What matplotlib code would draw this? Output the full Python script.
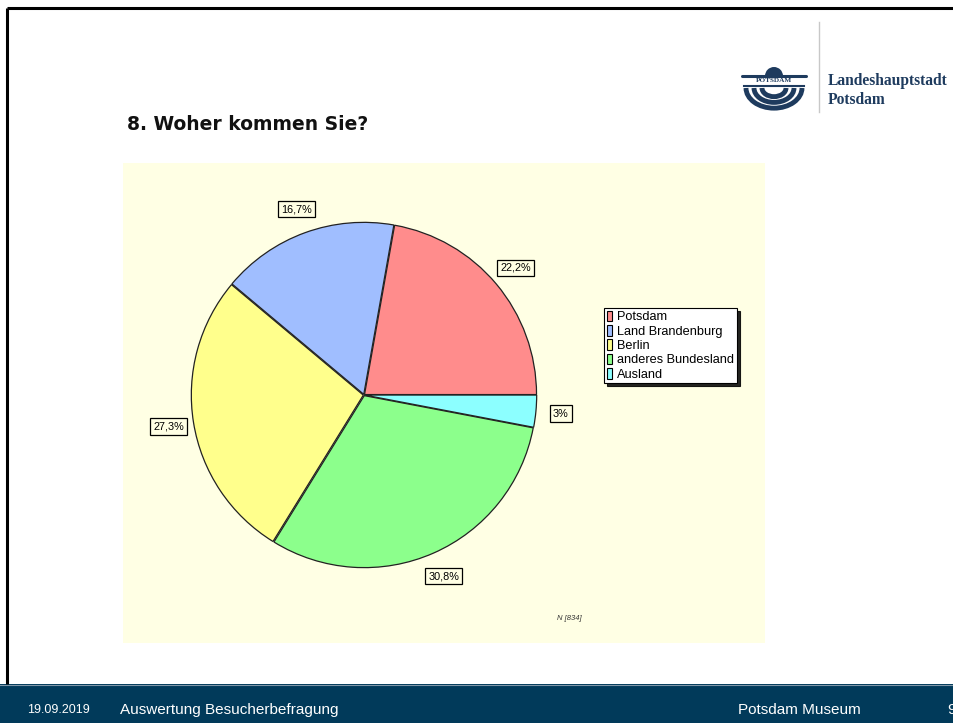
import matplotlib
matplotlib.use("Agg")
import matplotlib.pyplot as plt
from matplotlib.patches import Rectangle, Arc, Wedge
import numpy as np

# data
categories = ["Potsdam", "Land Brandenburg", "Berlin", "anderes Bundesland", "Ausland"]
shares = [22.2, 16.7, 27.3, 30.8, 3.0]
colors = ["#FF8C8C", "#A0BEFF", "#FFFF8C", "#8CFF8C", "#8CFFFF"]
n_text = "N [834]"
title = "8. Woher kommen Sie?"
footer_date = "19.09.2019"
footer_title = "Auswertung Besucherbefragung"
footer_org = "Potsdam Museum"
page_no = "9"

W, H = 954, 723
fig = plt.figure(figsize=(W / 100, H / 100), dpi=100)
fig.patch.set_facecolor("white")

# background axes in pixel coordinates
bg = fig.add_axes([0, 0, 1, 1])
bg.set_xlim(0, W)
bg.set_ylim(H, 0)
bg.axis("off")

# slide frame
bg.plot([7, W], [8, 8], color="black", lw=2.2, solid_capstyle="butt")
bg.plot([7, 7], [8, 684], color="black", lw=2.2, solid_capstyle="butt")

# footer
bg.add_patch(Rectangle((0, 684), W, H - 684, facecolor="#013A5A", edgecolor="none"))
bg.plot([0, W], [684.5, 684.5], color="#7F96A8", lw=0.8)
ff = ["Liberation Sans", "DejaVu Sans"]
bg.text(27, 710, footer_date, color="white", fontsize=9, family=ff, va="center")
bg.text(120, 710, footer_title, color="white", fontsize=11, family=ff, va="center")
bg.text(738, 710, footer_org, color="white", fontsize=11, family=ff, va="center")
bg.text(947, 710, page_no, color="white", fontsize=11, family=ff, va="center")

# title
bg.text(127, 124, title, fontsize=13.5, fontweight="bold", family="DejaVu Sans",
        va="center", ha="left", color="#111111")

# logo
navy = "#1E3B5E"
bg.plot([819, 819], [22, 112], color="#C8C8C8", lw=1)
bg.text(828, 81, "Landeshauptstadt", fontsize=11.2, fontweight="bold",
        family="Liberation Serif", color=navy, va="center")
bg.text(828, 100, "Potsdam", fontsize=11.2, fontweight="bold",
        family="Liberation Serif", color=navy, va="center")
bg.add_patch(Wedge((774, 76), 9, 180, 360, facecolor=navy, edgecolor="none"))
bg.plot([742, 806], [75.5, 75.5], color=navy, lw=2.2, solid_capstyle="round")
bg.plot([744, 804], [86, 86], color=navy, lw=1.5)
bg.text(774, 81, "POTSDAM", fontsize=5.2, family="Liberation Serif",
        color=navy, ha="center", va="center", fontweight="bold")
for r in [28, 20, 12]:
    bg.add_patch(Arc((774, 88), 2 * r, 2 * r * 0.72, theta1=0, theta2=180,
                     color=navy, lw=3.5))

# chart panel
bg.add_patch(Rectangle((123, 163), 642, 480, facecolor="#FFFFE4", edgecolor="none", zorder=0))
bg.text(569, 619, n_text, fontsize=5.5, style="italic", family=ff,
        ha="center", va="center", color="#333333")

# pie axes: centre (364, 395), radius 172 px
cx, cy, r_px, half = 364, 395, 172, 230
pie_ax = fig.add_axes([(cx - half) / W, 1 - (cy + half) / H, 2 * half / W, 2 * half / H])
pie_ax.set_facecolor("none")
lim = half / r_px


def fmt_pct(v):
    if float(v).is_integer():
        return f"{int(v)}%"
    return f"{v:.1f}".replace(".", ",") + "%"


wedges, _ = pie_ax.pie(shares, colors=colors, startangle=0, counterclock=True,
                       explode=[0.004] * len(shares),
                       wedgeprops=dict(edgecolor="#222222", linewidth=0.9))
pie_ax.set_xlim(-lim, lim)
pie_ax.set_ylim(-lim, lim)
pie_ax.set_aspect("equal")
pie_ax.axis("off")

for w, v in zip(wedges, shares):
    ang = np.deg2rad((w.theta1 + w.theta2) / 2)
    x, y = 1.15 * np.cos(ang), 1.15 * np.sin(ang)
    pie_ax.text(x, y, fmt_pct(v), fontsize=7.8, family=ff, ha="center", va="center",
                bbox=dict(boxstyle="square,pad=0.3", facecolor="#FFFFE4",
                          edgecolor="black", linewidth=0.9))

leg = fig.legend(wedges, categories, loc="upper left",
                 bbox_to_anchor=(604 / W, 1 - 308 / H), frameon=True,
                 shadow={"color": "black", "alpha": 0.85},
                 fancybox=False, prop={"family": ff, "size": 9.2},
                 handlelength=0.45, handleheight=0.9, handletextpad=0.4,
                 labelspacing=0.13, borderpad=0.2, borderaxespad=0)
leg.get_frame().set_edgecolor("black")
leg.get_frame().set_linewidth(0.8)
leg.get_frame().set_facecolor("white")
leg.get_frame().set_alpha(1)
for h in leg.legend_handles:
    h.set_edgecolor("black")
    h.set_linewidth(0.8)

fig.savefig("out.png", dpi=100)
